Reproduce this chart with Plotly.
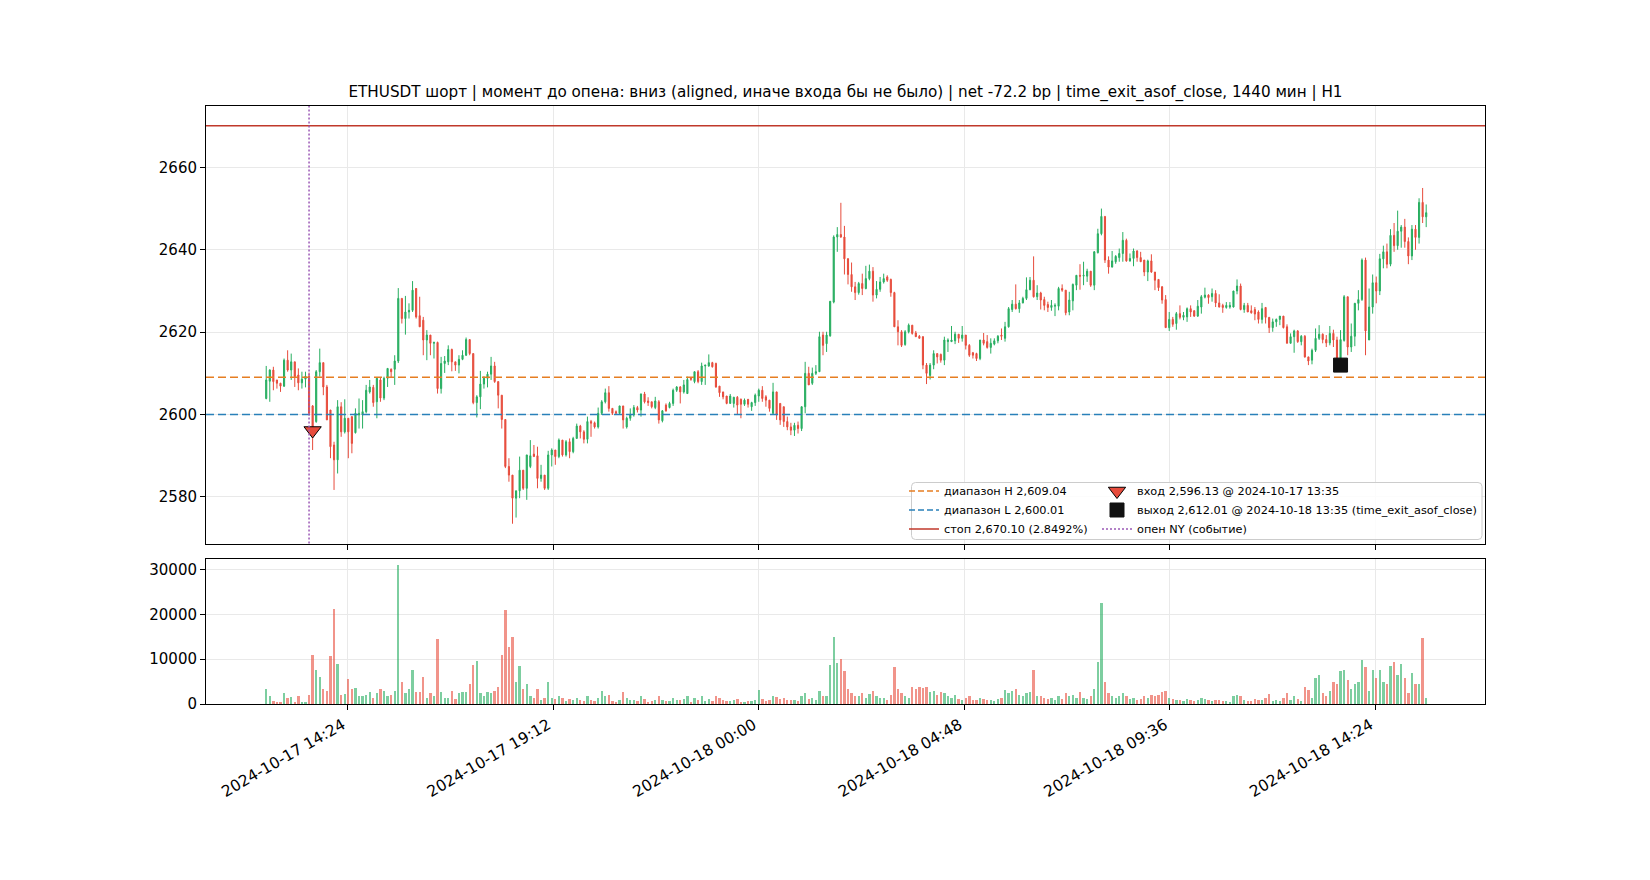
import pandas as pd
import plotly.graph_objects as go

# ---------------- data ----------------
START = "2024-10-17 12:30"
FREQ = "5min"

open_ = [
    2603.9, 2608.1, 2610.8, 2608.4, 2607.6, 2606.9, 2613.2, 2610.8, 2612.8, 2609.6,
    2607.7, 2608.6, 2609.3, 2602.1, 2598.3, 2610.4, 2612.6, 2606.7, 2601.1, 2592.6,
    2589.0, 2601.9, 2595.8, 2599.1, 2599.5, 2595.6, 2599.9, 2599.9, 2600.7, 2605.5,
    2606.6, 2603.1, 2608.4, 2604.0, 2608.8, 2611.0, 2611.0, 2613.0, 2628.2, 2623.3,
    2624.9, 2625.3, 2630.6, 2624.0, 2622.9, 2618.1, 2619.3, 2617.3, 2617.5, 2606.3,
    2612.4, 2612.8, 2615.8, 2612.8, 2612.0, 2613.4, 2614.4, 2618.2, 2614.8, 2602.9,
    2604.3, 2607.4, 2608.8, 2609.8, 2611.8, 2608.0, 2604.7, 2598.8, 2587.4, 2585.3,
    2579.7, 2581.5, 2586.5, 2582.1, 2587.4, 2590.4, 2590.0, 2584.5, 2585.3, 2582.1,
    2590.2, 2591.4, 2589.8, 2593.8, 2590.2, 2593.4, 2591.0, 2594.2, 2597.2, 2595.8,
    2594.0, 2598.3, 2598.0, 2597.0, 2600.3, 2603.1, 2605.3, 2601.5, 2600.7, 2600.3,
    2602.1, 2597.0, 2599.1, 2599.9, 2601.7, 2601.1, 2605.0, 2603.3, 2603.1, 2601.7,
    2603.1, 2598.5, 2602.3, 2601.7, 2602.7, 2605.9, 2606.7, 2605.5, 2605.1, 2608.8,
    2608.0, 2610.4, 2608.0, 2611.8, 2611.8, 2612.6, 2612.4, 2606.9, 2605.5, 2604.5,
    2602.7, 2602.7, 2604.2, 2603.7, 2602.5, 2603.7, 2601.9, 2602.9, 2604.5, 2605.9,
    2604.3, 2603.5, 2600.3, 2605.5, 2602.7, 2601.9, 2598.3, 2597.0, 2596.2, 2597.4,
    2596.6, 2601.9, 2610.0, 2607.6, 2610.0, 2610.4, 2619.3, 2617.2, 2619.1, 2627.3,
    2643.1, 2643.7, 2643.1, 2637.8, 2634.0, 2631.0, 2629.6, 2631.8, 2630.6, 2633.0,
    2634.8, 2629.0, 2630.4, 2632.2, 2633.4, 2632.8, 2629.6, 2621.3, 2620.1, 2617.0,
    2620.1, 2621.7, 2619.8, 2619.0, 2618.9, 2612.0, 2609.5, 2612.0, 2614.8, 2614.6,
    2613.2, 2617.7, 2617.7, 2617.9, 2619.5, 2618.5, 2619.3, 2616.8, 2615.0, 2614.8,
    2613.6, 2618.1, 2617.7, 2616.3, 2617.1, 2617.9, 2619.3, 2618.5, 2621.3, 2625.5,
    2626.8, 2625.7, 2627.1, 2628.2, 2630.3, 2632.6, 2628.6, 2629.5, 2627.9, 2626.7,
    2626.0, 2626.3, 2626.3, 2630.6, 2630.2, 2624.9, 2627.6, 2631.4, 2633.8, 2633.6,
    2633.6, 2634.8, 2631.4, 2639.3, 2643.9, 2648.1, 2637.5, 2635.8, 2637.1, 2638.1,
    2639.1, 2642.3, 2637.3, 2637.9, 2639.7, 2638.1, 2637.5, 2634.6, 2637.3, 2634.6,
    2632.8, 2631.0, 2627.9, 2621.1, 2623.1, 2622.1, 2624.5, 2623.6, 2623.7, 2625.7,
    2625.2, 2623.9, 2626.1, 2628.5, 2629.0, 2628.6, 2629.4, 2627.1, 2626.5, 2626.0,
    2626.1, 2626.1, 2630.0, 2631.2, 2625.5, 2626.5, 2625.2, 2625.5, 2624.9, 2623.1,
    2626.0, 2623.6, 2621.1, 2622.5, 2623.1, 2623.9, 2621.3, 2617.3, 2618.9, 2620.3,
    2617.7, 2619.0, 2614.0, 2613.2, 2615.6, 2618.5, 2619.5, 2618.2, 2617.4, 2619.7,
    2618.1, 2612.0, 2618.0, 2628.6, 2616.4, 2619.0, 2627.0, 2627.9, 2637.5, 2618.1,
    2626.1, 2632.0, 2630.0, 2637.8, 2639.5, 2636.5, 2643.5, 2641.0, 2644.5, 2645.5,
    2642.0, 2638.5, 2645.0, 2643.0, 2651.5, 2648.0,
]

high = [
    2611.8, 2611.0, 2611.6, 2608.4, 2607.7, 2613.6, 2615.6, 2614.8, 2612.8, 2611.2,
    2610.4, 2610.4, 2610.2, 2602.3, 2610.8, 2616.0, 2612.6, 2607.2, 2601.1, 2593.4,
    2603.5, 2603.0, 2603.7, 2599.1, 2599.5, 2601.5, 2603.9, 2603.5, 2607.2, 2608.4,
    2607.2, 2609.0, 2609.0, 2609.2, 2611.2, 2611.2, 2614.4, 2630.7, 2628.2, 2628.8,
    2627.0, 2632.4, 2630.7, 2628.6, 2623.7, 2620.5, 2619.3, 2617.7, 2617.7, 2614.0,
    2614.2, 2616.8, 2616.0, 2612.8, 2614.4, 2615.6, 2618.7, 2618.2, 2614.8, 2604.7,
    2610.6, 2609.3, 2610.4, 2614.0, 2612.8, 2608.0, 2604.7, 2598.8, 2589.4, 2585.3,
    2581.5, 2589.8, 2586.5, 2590.2, 2593.8, 2592.6, 2592.2, 2587.8, 2585.3, 2591.2,
    2591.8, 2591.4, 2594.2, 2593.8, 2593.8, 2594.2, 2594.6, 2597.8, 2597.5, 2596.2,
    2599.5, 2598.7, 2598.3, 2601.7, 2603.5, 2606.3, 2606.9, 2601.5, 2601.0, 2602.1,
    2602.1, 2599.5, 2601.5, 2602.3, 2602.1, 2605.1, 2605.5, 2604.2, 2603.1, 2604.3,
    2603.5, 2601.1, 2602.7, 2603.1, 2606.3, 2606.9, 2606.9, 2608.4, 2609.2, 2609.0,
    2610.4, 2610.8, 2612.6, 2612.0, 2614.6, 2612.8, 2612.6, 2606.9, 2605.5, 2604.5,
    2605.0, 2604.3, 2604.5, 2603.9, 2603.9, 2603.7, 2603.1, 2605.1, 2606.3, 2606.9,
    2604.7, 2603.5, 2607.7, 2605.5, 2602.7, 2601.9, 2599.5, 2598.0, 2598.0, 2598.3,
    2601.5, 2612.8, 2611.6, 2611.4, 2612.0, 2620.1, 2620.1, 2620.1, 2627.5, 2643.5,
    2645.5, 2651.4, 2645.8, 2638.0, 2636.9, 2632.2, 2632.2, 2634.2, 2636.1, 2636.4,
    2635.8, 2632.4, 2633.4, 2634.2, 2633.8, 2633.0, 2629.8, 2622.9, 2620.5, 2620.5,
    2622.1, 2621.7, 2620.3, 2619.3, 2619.0, 2612.5, 2612.5, 2615.6, 2614.8, 2614.8,
    2618.9, 2618.5, 2621.5, 2620.1, 2619.5, 2621.5, 2619.3, 2617.1, 2615.2, 2615.0,
    2618.1, 2619.8, 2619.3, 2618.5, 2618.5, 2619.3, 2620.9, 2622.5, 2626.1, 2627.8,
    2631.6, 2627.8, 2628.6, 2633.3, 2633.4, 2638.4, 2631.4, 2629.8, 2628.6, 2627.4,
    2627.8, 2627.0, 2631.0, 2631.6, 2630.2, 2629.8, 2631.8, 2633.8, 2636.5, 2637.1,
    2635.4, 2634.8, 2639.7, 2645.1, 2650.0, 2648.1, 2638.4, 2639.7, 2638.7, 2640.3,
    2644.3, 2642.7, 2639.1, 2640.3, 2639.9, 2639.5, 2637.5, 2637.6, 2638.9, 2634.6,
    2632.8, 2631.2, 2629.0, 2624.9, 2623.7, 2624.9, 2626.5, 2624.9, 2626.0, 2626.5,
    2625.3, 2627.8, 2629.0, 2630.8, 2629.2, 2630.6, 2630.2, 2629.2, 2626.9, 2627.3,
    2627.3, 2630.0, 2632.8, 2631.8, 2627.1, 2627.1, 2626.5, 2626.1, 2625.3, 2627.1,
    2626.0, 2623.6, 2623.3, 2623.3, 2623.9, 2623.9, 2621.9, 2619.7, 2620.6, 2620.5,
    2619.3, 2619.3, 2614.0, 2616.0, 2620.9, 2621.7, 2619.7, 2619.3, 2621.5, 2620.6,
    2618.9, 2620.5, 2629.0, 2628.6, 2622.1, 2627.1, 2630.2, 2637.9, 2638.1, 2630.6,
    2634.0, 2633.5, 2639.0, 2641.0, 2641.5, 2645.0, 2646.5, 2649.5, 2646.0, 2647.5,
    2643.0, 2646.0, 2646.0, 2652.5, 2655.0, 2651.0,
]

low = [
    2603.7, 2603.1, 2605.9, 2606.3, 2605.5, 2606.7, 2610.4, 2608.4, 2606.7, 2605.9,
    2606.3, 2606.6, 2599.8, 2591.4, 2598.0, 2609.2, 2604.7, 2598.7, 2589.4, 2581.7,
    2585.7, 2594.6, 2595.4, 2589.4, 2590.6, 2595.4, 2596.6, 2596.6, 2600.3, 2605.1,
    2601.9, 2599.1, 2603.1, 2603.5, 2606.7, 2609.0, 2607.2, 2612.5, 2622.1, 2619.4,
    2623.3, 2624.9, 2623.3, 2621.3, 2614.4, 2613.2, 2614.4, 2613.6, 2605.1, 2605.1,
    2610.1, 2612.0, 2610.5, 2610.6, 2610.0, 2613.2, 2614.2, 2614.4, 2602.5, 2599.3,
    2601.3, 2606.3, 2606.6, 2608.4, 2607.7, 2601.5, 2596.6, 2587.0, 2583.7, 2573.5,
    2575.0, 2579.7, 2581.7, 2579.3, 2587.0, 2589.8, 2582.1, 2583.7, 2581.7, 2581.7,
    2587.4, 2587.8, 2589.4, 2589.8, 2589.8, 2589.4, 2590.6, 2594.2, 2594.2, 2593.0,
    2593.0, 2594.6, 2596.6, 2596.6, 2599.9, 2602.7, 2600.7, 2599.9, 2599.9, 2599.9,
    2596.6, 2596.6, 2598.5, 2599.5, 2600.5, 2599.5, 2602.7, 2602.1, 2601.5, 2601.3,
    2597.8, 2598.1, 2600.7, 2601.5, 2602.1, 2605.5, 2602.7, 2605.1, 2605.0, 2608.2,
    2607.6, 2607.6, 2607.2, 2607.2, 2611.6, 2611.4, 2606.5, 2604.3, 2603.7, 2602.5,
    2602.7, 2601.7, 2599.9, 2599.1, 2602.1, 2601.7, 2600.9, 2602.1, 2603.1, 2603.1,
    2601.9, 2600.7, 2599.9, 2598.7, 2597.5, 2597.0, 2596.2, 2595.0, 2594.8, 2595.4,
    2596.0, 2600.3, 2607.2, 2607.2, 2609.6, 2610.4, 2614.4, 2615.2, 2618.9, 2627.0,
    2639.5, 2642.9, 2634.0, 2631.6, 2629.8, 2627.8, 2629.1, 2629.0, 2630.4, 2632.6,
    2627.4, 2628.2, 2629.8, 2631.8, 2632.2, 2628.6, 2621.3, 2616.8, 2616.4, 2616.7,
    2619.7, 2619.4, 2618.9, 2618.5, 2611.0, 2607.4, 2608.5, 2611.0, 2612.4, 2612.6,
    2612.0, 2615.2, 2617.7, 2617.1, 2617.4, 2617.7, 2615.8, 2614.0, 2613.6, 2613.0,
    2613.2, 2616.8, 2616.0, 2614.8, 2616.8, 2617.3, 2618.1, 2617.7, 2621.1, 2624.9,
    2625.5, 2624.7, 2627.0, 2627.8, 2630.2, 2628.4, 2627.8, 2625.5, 2625.3, 2624.9,
    2625.2, 2623.9, 2625.3, 2629.8, 2624.1, 2624.1, 2625.3, 2630.2, 2630.3, 2631.4,
    2632.2, 2631.0, 2630.2, 2639.1, 2643.5, 2636.8, 2634.2, 2635.7, 2636.6, 2637.1,
    2637.1, 2637.1, 2637.1, 2636.0, 2637.1, 2637.1, 2633.6, 2632.4, 2634.4, 2630.2,
    2630.0, 2626.9, 2621.1, 2620.3, 2621.3, 2620.6, 2623.1, 2622.9, 2622.5, 2623.7,
    2623.7, 2623.7, 2624.5, 2628.2, 2626.9, 2627.4, 2626.1, 2626.0, 2624.7, 2625.7,
    2625.7, 2626.0, 2629.2, 2625.3, 2624.7, 2624.9, 2624.5, 2622.9, 2622.1, 2622.1,
    2622.1, 2619.8, 2620.1, 2621.3, 2621.7, 2620.9, 2617.3, 2617.3, 2615.0, 2617.4,
    2616.8, 2613.8, 2612.0, 2612.2, 2615.2, 2618.1, 2617.3, 2616.4, 2616.8, 2616.4,
    2611.0, 2611.5, 2617.7, 2614.4, 2615.2, 2616.6, 2625.3, 2627.6, 2614.4, 2618.1,
    2624.5, 2627.0, 2629.0, 2635.5, 2635.5, 2636.0, 2639.5, 2640.0, 2640.5, 2640.5,
    2636.5, 2637.5, 2640.0, 2641.5, 2646.5, 2645.5,
]

close = [
    2608.4, 2610.8, 2608.0, 2607.6, 2606.9, 2613.2, 2610.8, 2612.8, 2609.2, 2607.7,
    2608.6, 2609.3, 2600.3, 2596.1, 2610.4, 2612.6, 2606.7, 2598.7, 2592.2, 2589.0,
    2601.9, 2595.8, 2599.1, 2595.8, 2593.0, 2600.3, 2600.3, 2600.7, 2605.9, 2606.7,
    2602.9, 2608.8, 2604.0, 2608.8, 2611.2, 2610.4, 2613.0, 2628.2, 2623.3, 2624.9,
    2625.3, 2630.2, 2623.7, 2621.3, 2618.1, 2619.3, 2617.3, 2617.5, 2606.3, 2612.4,
    2613.0, 2615.8, 2612.8, 2612.0, 2613.4, 2614.4, 2618.2, 2614.8, 2602.9, 2604.3,
    2607.4, 2608.8, 2609.8, 2611.8, 2608.0, 2604.7, 2598.8, 2587.4, 2585.3, 2579.7,
    2581.5, 2586.5, 2582.1, 2590.2, 2590.0, 2589.8, 2584.5, 2585.3, 2582.1, 2590.2,
    2591.4, 2589.8, 2593.8, 2590.2, 2593.4, 2591.0, 2594.2, 2597.2, 2595.8, 2594.0,
    2598.3, 2597.9, 2597.0, 2600.3, 2603.1, 2605.3, 2601.5, 2600.3, 2600.3, 2602.1,
    2598.7, 2599.1, 2599.9, 2601.7, 2601.1, 2605.0, 2603.1, 2602.9, 2601.9, 2603.3,
    2598.7, 2600.9, 2600.9, 2602.7, 2605.9, 2606.7, 2605.5, 2607.2, 2608.5, 2608.6,
    2610.4, 2608.0, 2611.8, 2612.0, 2612.6, 2611.6, 2606.7, 2605.3, 2604.3, 2602.7,
    2604.5, 2604.2, 2602.3, 2602.5, 2603.5, 2602.5, 2602.9, 2604.7, 2605.9, 2603.9,
    2603.5, 2601.5, 2605.5, 2599.9, 2598.7, 2598.3, 2597.0, 2596.2, 2597.4, 2596.6,
    2601.9, 2610.0, 2607.2, 2610.0, 2610.4, 2618.9, 2616.8, 2619.3, 2627.5, 2643.1,
    2643.7, 2643.1, 2637.8, 2634.0, 2631.0, 2629.6, 2631.8, 2630.6, 2633.0, 2634.8,
    2629.0, 2630.4, 2632.2, 2633.0, 2632.6, 2629.6, 2621.3, 2620.1, 2616.8, 2620.1,
    2621.7, 2619.7, 2618.9, 2618.5, 2612.0, 2610.0, 2612.0, 2614.8, 2614.0, 2613.2,
    2618.1, 2618.1, 2618.1, 2619.5, 2618.5, 2619.3, 2616.8, 2614.4, 2614.4, 2613.6,
    2618.1, 2617.3, 2616.3, 2617.3, 2617.9, 2619.0, 2619.0, 2621.3, 2625.7, 2626.8,
    2625.7, 2627.1, 2628.2, 2630.3, 2632.6, 2628.6, 2629.5, 2627.8, 2626.5, 2626.0,
    2626.5, 2626.5, 2630.6, 2630.2, 2624.7, 2627.8, 2631.6, 2633.8, 2633.6, 2633.8,
    2634.8, 2631.4, 2639.5, 2643.9, 2648.1, 2637.5, 2635.8, 2637.3, 2638.4, 2639.1,
    2642.3, 2637.3, 2637.9, 2639.7, 2638.1, 2637.1, 2634.6, 2637.3, 2634.6, 2632.6,
    2630.8, 2627.8, 2621.1, 2623.1, 2621.9, 2624.5, 2623.6, 2624.1, 2625.7, 2624.9,
    2623.9, 2626.3, 2628.6, 2629.0, 2628.4, 2629.4, 2627.1, 2626.1, 2626.0, 2626.5,
    2626.5, 2630.0, 2631.2, 2625.5, 2626.5, 2624.9, 2624.7, 2624.4, 2623.1, 2625.7,
    2623.6, 2621.1, 2622.5, 2623.1, 2623.9, 2621.1, 2617.3, 2618.9, 2620.3, 2617.7,
    2619.0, 2614.0, 2613.0, 2615.6, 2618.5, 2619.5, 2618.2, 2617.4, 2619.7, 2618.1,
    2612.0, 2618.2, 2628.6, 2616.4, 2619.0, 2627.0, 2627.9, 2637.5, 2620.3, 2626.1,
    2632.0, 2630.0, 2637.8, 2639.5, 2636.5, 2643.5, 2641.0, 2644.5, 2645.5, 2642.0,
    2638.5, 2645.0, 2643.0, 2651.5, 2648.0, 2649.0,
]

volume = [
    3560, 2000, 890, 670, 450, 2670, 1560, 1780, 670, 2000,
    670, 670, 2230, 11140, 7800, 6240, 3560, 3120, 10920, 21390,
    9130, 2230, 2450, 5790, 3560, 3790, 2000, 2000, 2230, 2900,
    1500, 2500, 3500, 3000, 1800, 2200, 3000, 31060, 5000, 2500,
    3500, 7600, 2800, 2800, 6200, 1500, 2500, 2000, 14690, 2700,
    1500, 1500, 3000, 1200, 2500, 2700, 2800, 4500, 8710, 9740,
    2500, 2000, 2800, 2500, 3000, 4000, 11070, 21030, 12910, 15050,
    5000, 8630, 3500, 4500, 2000, 1500, 3500, 1000, 1500, 5000,
    1500, 1200, 2000, 1500, 800, 1200, 900, 1500, 1000, 800,
    2000, 900, 700, 1500, 3000, 1800, 2200, 800, 600, 900,
    2900, 1500, 900, 1000, 700, 1800, 1200, 600, 700, 900,
    1800, 1000, 800, 700, 1500, 900, 1000, 1200, 1800, 600,
    1400, 1100, 2000, 800, 1200, 700, 1900, 1500, 900, 800,
    700, 900, 1200, 600, 500, 800, 700, 900, 3200, 1200,
    800, 900, 1800, 1600, 1300, 1500, 1000, 900, 1100, 800,
    1800, 2500, 1200, 1400, 900, 3000, 2000, 1800, 8860, 15120,
    9300, 10180, 7370, 3500, 2500, 2000, 1800, 2600, 1500, 2300,
    3000, 1800, 1500, 1400, 1000, 2200, 8260, 3500, 2500, 1800,
    1500, 3800, 3500, 4000, 3600, 3800, 2800, 3000, 2200, 2800,
    2500, 1800, 1500, 2200, 1200, 1000, 1400, 1800, 900, 1100,
    1500, 1200, 1000, 900, 800, 1200, 1500, 3200, 2600, 3000,
    3500, 2200, 1800, 2500, 2800, 7600, 2000, 1800, 1500, 1200,
    1500, 1000, 1800, 1200, 2500, 1800, 2200, 1500, 2800, 1500,
    1200, 2000, 3500, 9590, 22650, 5000, 2500, 2000, 1500, 1800,
    2600, 1800, 1200, 1500, 1000, 1200, 2000, 1500, 2200, 1800,
    2200, 2800, 3000, 1500, 1200, 1000, 900, 700, 1200, 1000,
    800, 1000, 1500, 1200, 900, 800, 1000, 900, 700, 800,
    600, 1800, 2200, 1800, 900, 800, 700, 1200, 1000, 900,
    1500, 2300, 800, 900, 700, 1400, 2500, 1000, 2000, 1200,
    800, 4000, 3200, 1500, 6000, 6500, 2500, 2000, 3000, 5000,
    4500, 7370, 7600, 5500, 3500, 4500, 5000, 9960, 8260, 3000,
    7600, 6000, 7600, 5000, 4500, 8490, 9370, 6500, 9080, 5900,
    2500, 7000, 4500, 4500, 14800, 1500,
]

RANGE_H = 2609.04
RANGE_L = 2600.01
STOP = 2670.10
ENTRY_TIME = "2024-10-17 13:35"
ENTRY_PRICE = 2596.13
EXIT_TIME = "2024-10-18 13:35"
EXIT_PRICE = 2612.01
NY_OPEN = "2024-10-17 13:30"

tick_times = ["2024-10-17 14:24", "2024-10-17 19:12", "2024-10-18 00:00",
              "2024-10-18 04:48", "2024-10-18 09:36", "2024-10-18 14:24"]
tick_labels = tick_times
price_ticks = [2580, 2600, 2620, 2640, 2660]
vol_ticks = [0, 10000, 20000, 30000]

TITLE = ("ETHUSDT шорт | момент до опена: вниз (aligned, иначе входа бы не было) | "
         "net -72.2 bp | time_exit_asof_close, 1440 мин | H1")
LEG_H = "диапазон H 2,609.04"
LEG_L = "диапазон L 2,600.01"
LEG_STOP = "стоп 2,670.10 (2.8492%)"
LEG_ENTRY = "вход 2,596.13 @ 2024-10-17 13:35"
LEG_EXIT = "выход 2,612.01 @ 2024-10-18 13:35 (time_exit_asof_close)"
LEG_NY = "опен NY (событие)"

# ---------------- styling ----------------
GREEN = "#27ae60"
RED = "#e74c3c"
GREEN_VOL = "rgba(39,174,96,0.6)"
RED_VOL = "rgba(231,76,60,0.6)"
ORANGE = "#e67e22"
BLUE = "#2980b9"
STOP_C = "#c0392b"
PURPLE = "#9b59b6"
FONT = "DejaVu Sans"

W, H = 1650, 880
ML, MR, MT, MB = 206, 165, 106, 176
PW, PH = W - ML - MR, H - MT - MB

def px_x(px):
    return (px - ML) / PW

def px_y(py):
    return (H - MB - py) / PH

times = pd.date_range(START, periods=len(close), freq=FREQ)
vol_colors = [GREEN_VOL if c >= o else RED_VOL for o, c in zip(open_, close)]
BAR_MS = 0.65 * 5 * 60 * 1000

X_RANGE = ["2024-10-17 11:05:38", "2024-10-18 16:57:22"]

fig = go.Figure()
fig.add_trace(go.Candlestick(
    x=times, open=open_, high=high, low=low, close=close,
    increasing=dict(line=dict(color=GREEN, width=1), fillcolor=GREEN),
    decreasing=dict(line=dict(color=RED, width=1), fillcolor=RED),
    whiskerwidth=0, xaxis="x", yaxis="y", showlegend=False, hoverinfo="skip",
))
fig.add_trace(go.Bar(
    x=times, y=volume, width=BAR_MS,
    marker=dict(color=vol_colors, line=dict(width=0)),
    xaxis="x2", yaxis="y2", showlegend=False, hoverinfo="skip",
))

# legend column 1 (line entries)
fig.add_trace(go.Scatter(x=[None], y=[None], mode="lines", name=LEG_H,
                         line=dict(color=ORANGE, width=1.6, dash="6px,3px"), legend="legend"))
fig.add_trace(go.Scatter(x=[None], y=[None], mode="lines", name=LEG_L,
                         line=dict(color=BLUE, width=1.6, dash="6px,3px"), legend="legend"))
fig.add_trace(go.Scatter(x=[None], y=[None], mode="lines", name=LEG_STOP,
                         line=dict(color=STOP_C, width=1.6), legend="legend"))
# legend column 2
fig.add_trace(go.Scatter(x=[ENTRY_TIME], y=[ENTRY_PRICE], mode="markers", name=LEG_ENTRY,
                         marker=dict(symbol="triangle-down", size=15, color=RED,
                                     line=dict(color="black", width=1)),
                         xaxis="x", yaxis="y", legend="legend2", hoverinfo="skip"))
fig.add_trace(go.Scatter(x=[EXIT_TIME], y=[EXIT_PRICE], mode="markers", name=LEG_EXIT,
                         marker=dict(symbol="square", size=14, color="#111111",
                                     line=dict(color="#111111", width=1)),
                         xaxis="x", yaxis="y", legend="legend2", hoverinfo="skip"))
fig.add_trace(go.Scatter(x=[None], y=[None], mode="lines", name=LEG_NY,
                         line=dict(color=PURPLE, width=1.5, dash="2px,2px"), legend="legend2"))

shapes = [
    dict(type="line", xref="x domain", x0=0, x1=1, yref="y", y0=RANGE_H, y1=RANGE_H,
         line=dict(color=ORANGE, width=1.6, dash="8px,4px"), layer="above"),
    dict(type="line", xref="x domain", x0=0, x1=1, yref="y", y0=RANGE_L, y1=RANGE_L,
         line=dict(color=BLUE, width=1.6, dash="8px,4px"), layer="above"),
    dict(type="line", xref="x domain", x0=0, x1=1, yref="y", y0=STOP, y1=STOP,
         line=dict(color=STOP_C, width=1.6), layer="above"),
    dict(type="line", xref="x", x0=NY_OPEN, x1=NY_OPEN, yref="y domain", y0=0, y1=1,
         line=dict(color=PURPLE, width=1.5, dash="2px,2px"), layer="above"),
]

# legend frame (rounded rectangle)
fx0, fx1 = px_x(911.5), px_x(1482)
fy0, fy1 = px_y(539.5), px_y(482.5)
rx, ry = 4 / PW, 4 / PH
path = (f"M {fx0+rx},{fy1} L {fx1-rx},{fy1} Q {fx1},{fy1} {fx1},{fy1-ry} "
        f"L {fx1},{fy0+ry} Q {fx1},{fy0} {fx1-rx},{fy0} L {fx0+rx},{fy0} "
        f"Q {fx0},{fy0} {fx0},{fy0+ry} L {fx0},{fy1-ry} Q {fx0},{fy1} {fx0+rx},{fy1} Z")
shapes.append(dict(type="path", xref="paper", yref="paper", path=path,
                   line=dict(color="#cccccc", width=1), fillcolor="rgba(255,255,255,0.85)",
                   layer="above"))

axis_common = dict(
    showline=True, linecolor="black", linewidth=1, mirror=True,
    ticks="outside", ticklen=5, tickwidth=1, tickcolor="black",
    showgrid=True, gridcolor="#e9e9e9", gridwidth=1, zeroline=False,
    tickfont=dict(family=FONT, size=15, color="black"),
)

main_bottom = px_y(543.5)
vol_top = px_y(558.5)

xaxis2_cfg = dict(axis_common)
xaxis2_cfg["tickfont"] = dict(family=FONT, size=15.5, color="black")

fig.update_layout(
    width=W, height=H,
    margin=dict(l=ML, r=MR, t=MT, b=MB, pad=0),
    paper_bgcolor="white", plot_bgcolor="white",
    font=dict(family=FONT, color="black"),
    title=dict(text=TITLE, x=0.5, xref="paper", xanchor="center",
               y=1 - 91.7 / H, yref="container", yanchor="middle",
               font=dict(family=FONT, size=15.2, color="black")),
    hovermode=False,
    boxgap=0.55,
    bargap=0,
    xaxis=dict(domain=[0, 1], anchor="y", type="date", range=X_RANGE,
               tickvals=tick_times, showticklabels=False,
               rangeslider=dict(visible=False), **axis_common),
    xaxis2=dict(domain=[0, 1], anchor="y2", type="date", range=X_RANGE, matches="x",
                tickvals=tick_times, ticktext=tick_labels, tickangle=-30,
                ticklabelshift=-5, **xaxis2_cfg),
    yaxis=dict(domain=[main_bottom, 1], anchor="x", range=[2568.7, 2674.9],
               tickvals=price_ticks, **axis_common),
    yaxis2=dict(domain=[0, vol_top], anchor="x2", range=[0, 32450],
                tickvals=vol_ticks, tickformat="d", **axis_common),
    shapes=shapes,
    legend=dict(x=px_x(904), y=px_y(476.5), xanchor="left", yanchor="top",
                bgcolor="rgba(0,0,0,0)", borderwidth=0, tracegroupgap=0,
                font=dict(family=FONT, size=11.3, color="black")),
    legend2=dict(x=px_x(1097), y=px_y(476.5), xanchor="left", yanchor="top",
                 bgcolor="rgba(0,0,0,0)", borderwidth=0, tracegroupgap=0,
                 font=dict(family=FONT, size=11.3, color="black")),
)

fig.write_html(
    "out.html",
    config={"displayModeBar": False},
    post_script="document.body.style.margin='0';document.body.style.overflow='hidden';",
)
